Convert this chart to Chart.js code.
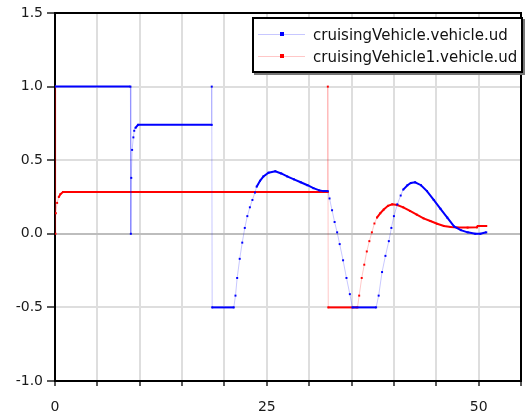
<!DOCTYPE html>
<html>
<head>
<meta charset="utf-8">
<script src="https://cdn.jsdelivr.net/npm/chart.js@4/dist/chart.umd.min.js"></script>
<style>
  body { margin: 0; background: #fff; }
  #wrap { position: relative; width: 531px; height: 417px; }
  #legend {
    position: absolute; left: 252px; top: 17px; width: 267px; height: 52px;
    border: 2px solid #000; box-shadow: 2px 2px 0 #777; background: #fff;
    font: 15px "DejaVu Sans", sans-serif; color: #111;
  }
  .row { position: absolute; left: 4px; height: 22px; line-height: 22px; white-space: nowrap; }
  .mark { position: absolute; left: 0; top: 10px; width: 47px; height: 1px; }
  .dot { position: absolute; left: 22px; top: -2px; width: 4px; height: 4px; }
  .txt { position: absolute; left: 55px; top: 0; }
</style>
</head>
<body>
<div id="wrap">
  <canvas id="grafico" width="531" height="417"></canvas>
  <div id="legend"></div>
</div>
<script>
// series names
const nomes = ['cruisingVehicle.vehicle.ud', 'cruisingVehicle1.vehicle.ud'];
const cores = ['#0000ff', '#ff0000'];
const coresFracas = ['rgba(0,0,255,0.22)', 'rgba(255,0,0,0.22)'];

// cruisingVehicle.vehicle.ud
const tempoAzul = [0, 8.9, 8.95, 9.0, 9.1, 9.25, 9.35, 9.5, 9.8, 18.5, 18.5, 18.55,
  21.1, 21.3, 21.5, 21.8, 22.1, 22.4, 22.7, 23.0, 23.3, 23.6, 23.8, 24.2, 24.6, 25.2,
  26.0, 26.7, 27.4, 28.2, 29.0, 29.8, 30.5, 31.2, 31.7, 32.2, 32.4, 32.7, 33.0, 33.3,
  33.6, 34.0, 34.4, 34.8, 35.1, 37.9, 38.2, 38.6, 39.0, 39.4, 39.7, 40.0, 40.4, 40.8,
  41.1, 41.6, 42.0, 42.5, 43.2, 43.9, 44.7, 45.5, 46.3, 47.1, 47.9, 48.7, 49.6, 50.2, 50.9];
const valorAzul = [1.0, 1.0, 0.0, 0.38, 0.57, 0.655, 0.70, 0.72, 0.74, 0.74, 1.0, -0.5,
  -0.5, -0.42, -0.3, -0.17, -0.06, 0.04, 0.12, 0.18, 0.23, 0.28, 0.32, 0.36, 0.39, 0.415,
  0.425, 0.41, 0.39, 0.37, 0.35, 0.33, 0.31, 0.295, 0.29, 0.29, 0.24, 0.16, 0.08, 0.01,
  -0.07, -0.18, -0.3, -0.41, -0.5, -0.5, -0.42, -0.26, -0.15, -0.05, 0.04, 0.12, 0.2, 0.26,
  0.30, 0.33, 0.345, 0.35, 0.33, 0.29, 0.23, 0.17, 0.11, 0.05, 0.025, 0.01, 0.0, 0.0, 0.01];

// cruisingVehicle1.vehicle.ud
const tempoVermelho = [0, 0.05, 0.1, 0.25, 0.45, 0.65, 0.95, 32.2, 32.2, 32.25,
  35.7, 35.9, 36.2, 36.5, 36.8, 37.1, 37.4, 37.7, 38.0, 38.4, 38.8, 39.3, 39.8, 40.4,
  41.1, 41.9, 42.7, 43.5, 44.3, 45.1, 45.9, 46.7, 47.5, 48.7, 49.8, 49.9, 50.9];
const valorVermelho = [1.0, 0.0, 0.14, 0.21, 0.25, 0.27, 0.284, 0.284, 1.0, -0.5,
  -0.5, -0.42, -0.3, -0.21, -0.12, -0.05, 0.01, 0.07, 0.11, 0.14, 0.165, 0.19, 0.2, 0.195,
  0.18, 0.155, 0.13, 0.105, 0.087, 0.068, 0.053, 0.046, 0.042, 0.042, 0.044, 0.053, 0.053];

// axis ticks
const ticksX = [0, 25, 50];
const ticksY = [-1.0, -0.5, 0.0, 0.5, 1.0, 1.5];

const pontos = (t, v) => t.map((x, i) => ({ x: x, y: v[i] }));
const ingreme = c => Math.abs(c.p1.y - c.p0.y) > 2 * Math.abs(c.p1.x - c.p0.x);

function serie(i, dados) {
  return {
    label: nomes[i],
    data: dados,
    borderColor: cores[i],
    borderWidth: 2,
    pointStyle: 'rect',
    pointRadius: 1.4,
    pointBorderWidth: 0,
    pointBackgroundColor: cores[i],
    tension: 0,
    segment: {
      borderColor: c => ingreme(c) ? coresFracas[i] : cores[i],
      borderWidth: c => ingreme(c) ? 1 : 2
    }
  };
}

// moldura superior e direita
const moldura = {
  id: 'moldura',
  afterDraw(chart) {
    const a = chart.chartArea, g = chart.ctx;
    g.save();
    g.strokeStyle = '#000';
    g.lineWidth = 2;
    g.beginPath();
    g.moveTo(a.left, a.top);
    g.lineTo(a.right, a.top);
    g.lineTo(a.right, a.bottom);
    g.stroke();
    g.restore();
  }
};

const ctx = document.getElementById('grafico').getContext('2d');
const grafico = new Chart(ctx, {
  type: 'line',
  data: {
    datasets: [serie(0, pontos(tempoAzul, valorAzul)), serie(1, pontos(tempoVermelho, valorVermelho))]
  },
  options: {
    responsive: false,
    animation: false,
    layout: { padding: { top: 13, right: 10, left: 0, bottom: 0 } },
    plugins: { legend: { display: false }, tooltip: { enabled: false } },
    scales: {
      x: {
        type: 'linear',
        min: 0,
        max: 55,
        afterFit: s => { s.height = 36; s.paddingRight = 0; },
        ticks: {
          stepSize: 5,
          autoSkip: false,
          maxRotation: 0,
          padding: 13,
          color: '#1a1a1a',
          font: { family: 'DejaVu Sans', size: 14 },
          callback: v => ticksX.includes(v) ? String(v) : ''
        },
        grid: { color: '#dedede', lineWidth: 2, tickLength: 5, tickColor: '#222', tickWidth: 1.5 },
        border: { color: '#000', width: 2 }
      },
      y: {
        min: -1,
        max: 1.5,
        afterFit: s => { s.width = 55; },
        afterBuildTicks: s => { s.ticks = ticksY.map(v => ({ value: v })); },
        ticks: {
          padding: 4,
          color: '#1a1a1a',
          font: { family: 'DejaVu Sans', size: 14 },
          callback: v => v.toFixed(1)
        },
        grid: {
          color: c => c.tick && c.tick.value === 0 ? '#bdbdbd' : '#dedede',
          lineWidth: 2, tickLength: 8, tickColor: '#222', tickWidth: 1.5
        },
        border: { color: '#000', width: 2 }
      }
    }
  },
  plugins: [moldura]
});

// legenda
const leg = document.getElementById('legend');
grafico.data.datasets.forEach((d, i) => {
  const row = document.createElement('div');
  row.className = 'row';
  row.style.top = (5 + i * 22) + 'px';
  row.innerHTML = '<span class="mark" style="background:' + coresFracas[i] + '">' +
    '<span class="dot" style="background:' + cores[i] + '"></span></span>' +
    '<span class="txt">' + d.label + '</span>';
  leg.appendChild(row);
});
</script>
</body>
</html>
